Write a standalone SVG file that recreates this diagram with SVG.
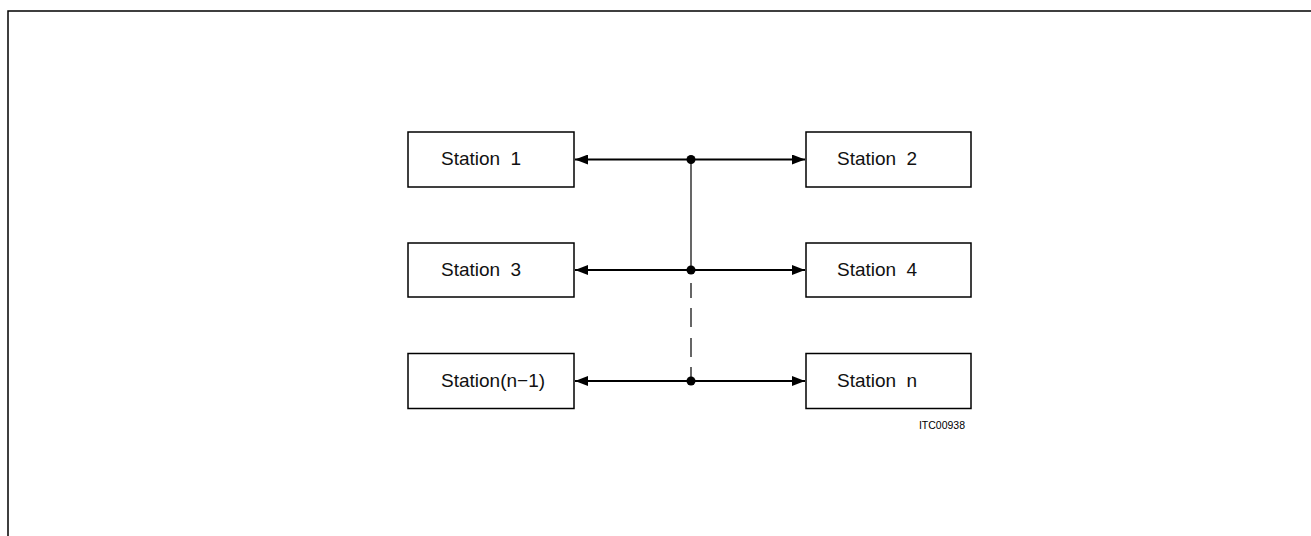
<svg xmlns="http://www.w3.org/2000/svg" width="1311" height="536" viewBox="0 0 1311 536">
  <style>
    .frame { stroke: #000; stroke-width: 1.5; fill: none; }
    .box { fill: #fff; stroke: #000; stroke-width: 1.5; }
    .lbl { font-family: "Liberation Sans", Arial, sans-serif; font-size: 19px; fill: #111; word-spacing: 5px; }
    .code { font-family: "Liberation Sans", Arial, sans-serif; font-size: 10.5px; fill: #000; }
    .link { stroke: #000; stroke-width: 2; fill: none; marker-start: url(#arrow); marker-end: url(#arrow); }
    .bus { stroke: #000; stroke-width: 1.2; fill: none; }
    .dash { stroke-dasharray: 15 10 19 11 19 10; }
    .dot { fill: #000; }
  </style>
  <defs>
    <marker id="arrow" viewBox="0 0 13 10" refX="13" refY="5" markerWidth="13" markerHeight="10" markerUnits="userSpaceOnUse" orient="auto-start-reverse">
      <path d="M0,0 L13,5 L0,10 z" fill="#000"/>
    </marker>
  </defs>
  <rect width="1311" height="536" fill="#fff"/>
  <path class="frame" d="M8,536 L8,11 L1311,11"/>

  <g id="connectors">
    <line class="link" x1="575" y1="159.5" x2="805" y2="159.5"/>
    <line class="link" x1="575" y1="270" x2="805" y2="270"/>
    <line class="link" x1="575" y1="381" x2="805" y2="381"/>
    <line class="bus" x1="691" y1="159.5" x2="691" y2="270"/>
    <line class="bus dash" x1="691" y1="283" x2="691" y2="381"/>
    <circle class="dot" cx="691" cy="159.5" r="4.5"/>
    <circle class="dot" cx="691" cy="270" r="4.5"/>
    <circle class="dot" cx="691" cy="381" r="4.5"/>
  </g>

  <g id="station1">
    <rect class="box" x="408" y="132" width="166" height="55"/>
    <text class="lbl" x="441" y="165">Station 1</text>
  </g>
  <g id="station2">
    <rect class="box" x="806" y="132" width="165" height="55"/>
    <text class="lbl" x="837" y="165">Station 2</text>
  </g>
  <g id="station3">
    <rect class="box" x="408" y="243" width="166" height="54"/>
    <text class="lbl" x="441" y="276">Station 3</text>
  </g>
  <g id="station4">
    <rect class="box" x="806" y="243" width="165" height="54"/>
    <text class="lbl" x="837" y="276">Station 4</text>
  </g>
  <g id="station_n_minus_1">
    <rect class="box" x="408" y="353.5" width="166" height="55"/>
    <text class="lbl" x="441" y="387">Station(n−1)</text>
  </g>
  <g id="station_n">
    <rect class="box" x="806" y="353.5" width="165" height="55"/>
    <text class="lbl" x="837" y="387">Station n</text>
  </g>
  <text class="code" x="965" y="429" text-anchor="end">ITC00938</text>
</svg>
